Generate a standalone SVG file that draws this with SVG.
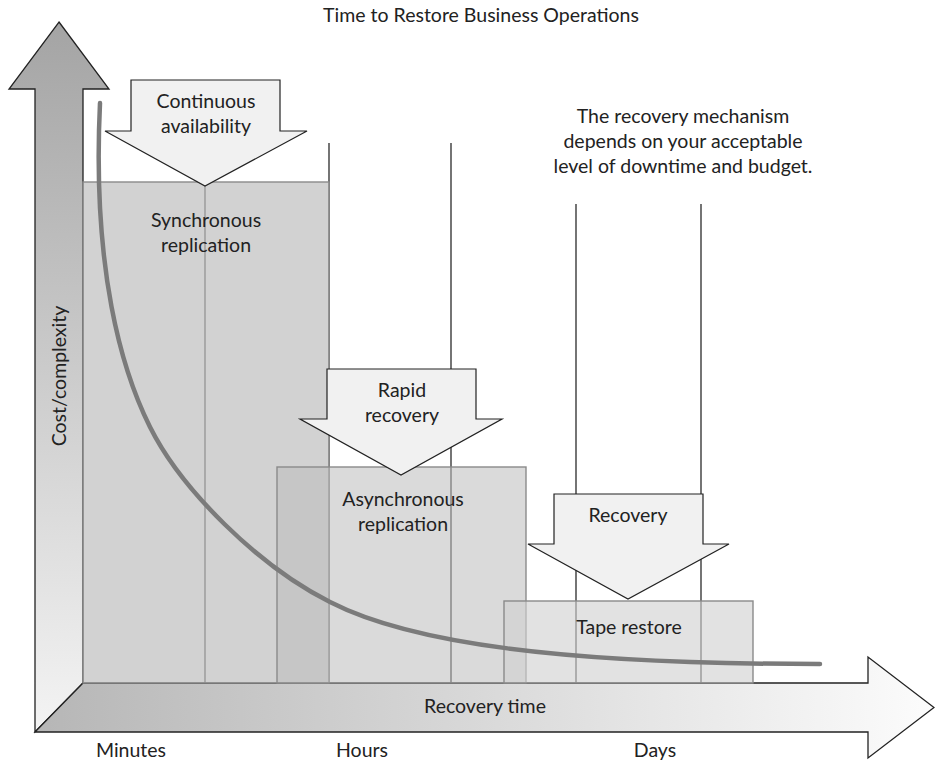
<svg xmlns="http://www.w3.org/2000/svg" width="935" height="763" viewBox="0 0 935 763">
<defs>
<linearGradient id="wallGrad" gradientUnits="userSpaceOnUse" x1="0" y1="22" x2="0" y2="732">
<stop offset="0" stop-color="#a4a4a4"/>
<stop offset="1" stop-color="#f4f4f4"/>
</linearGradient>
<linearGradient id="floorGrad" gradientUnits="userSpaceOnUse" x1="35" y1="0" x2="934" y2="0">
<stop offset="0" stop-color="#b6b6b6"/>
<stop offset="1" stop-color="#fcfcfc"/>
</linearGradient>
</defs>
<style>
text{font-family:Lato,"Liberation Sans",sans-serif;font-size:19.5px;fill:#222;text-anchor:middle}
.axis{stroke:#222;stroke-width:1.3;stroke-linejoin:miter}
.grid{stroke:#2a2a2a;stroke-width:1.3;fill:none}
.box{stroke:#8a8a8a;stroke-width:1.4}
.barrow{fill:#f1f1f1;stroke:#222;stroke-width:1.2;stroke-linejoin:miter}
.curve{fill:none;stroke:#7b7b7b;stroke-width:4.5;stroke-linecap:round}
</style>
<rect width="935" height="763" fill="#fff"/>
<text id="title" x="481" y="22">Time to Restore Business Operations</text>
<g id="y-axis">
<polygon class="axis" fill="url(#wallGrad)" points="59,22 109,89 83,89 83,683 35,732 35,89 9,89"/>
<text x="0" y="0" transform="translate(66,376) rotate(-90)">Cost/complexity</text>
</g>
<g id="x-axis">
<polygon class="axis" fill="url(#floorGrad)" points="35,732 83,683 868,683 868,657 934,707.5 868,758 868,732"/>
<text x="485" y="713">Recovery time</text>
</g>
<g id="grid-lines">
<line class="grid" x1="205" y1="182" x2="205" y2="683"/>
<line class="grid" x1="329" y1="143" x2="329" y2="683"/>
<line class="grid" x1="451" y1="143" x2="451" y2="683"/>
<line class="grid" x1="576" y1="204" x2="576" y2="683"/>
<line class="grid" x1="701" y1="204" x2="701" y2="683"/>
</g>
<g id="sync-replication">
<rect class="box" x="83" y="182" width="246" height="501" fill="#bfbfbf" fill-opacity="0.71"/>
<text x="206" y="227">Synchronous</text>
<text x="206" y="252">replication</text>
</g>
<g id="async-replication">
<rect class="box" x="277" y="467" width="249" height="216" fill="#bdbdbd" fill-opacity="0.56"/>
<text x="403" y="506">Asynchronous</text>
<text x="403" y="531">replication</text>
</g>
<g id="tape-restore">
<rect class="box" x="504" y="601" width="249" height="82" fill="#d0d0d0" fill-opacity="0.62"/>
<text x="629" y="634">Tape restore</text>
</g>
<g id="continuous-availability">
<polygon class="barrow" points="131,80 280,80 280,131 307,131 205,186 105,131 131,131"/>
<text x="206" y="108">Continuous</text>
<text x="206" y="133">availability</text>
</g>
<g id="rapid-recovery">
<polygon class="barrow" points="327,369 476,369 476,419 502,419 401,475 300,419 327,419"/>
<text x="402" y="397">Rapid</text>
<text x="402" y="422">recovery</text>
</g>
<g id="recovery">
<polygon class="barrow" points="554,494 703,494 703,544 729,544 628,599 528,544 554,544"/>
<text x="628" y="522">Recovery</text>
</g>
<g id="connectors">
<path class="curve" d="M100,103 C92,270 122,371 150,427 C181,489 258,566 330,602 C410,643 560,664 820,664"/>
</g>
<g id="note">
<text x="683" y="123">The recovery mechanism</text>
<text x="683" y="148">depends on your acceptable</text>
<text x="683" y="173">level of downtime and budget.</text>
</g>
<g id="x-labels">
<text x="131" y="757">Minutes</text>
<text x="362" y="757">Hours</text>
<text x="655" y="757">Days</text>
</g>
</svg>
